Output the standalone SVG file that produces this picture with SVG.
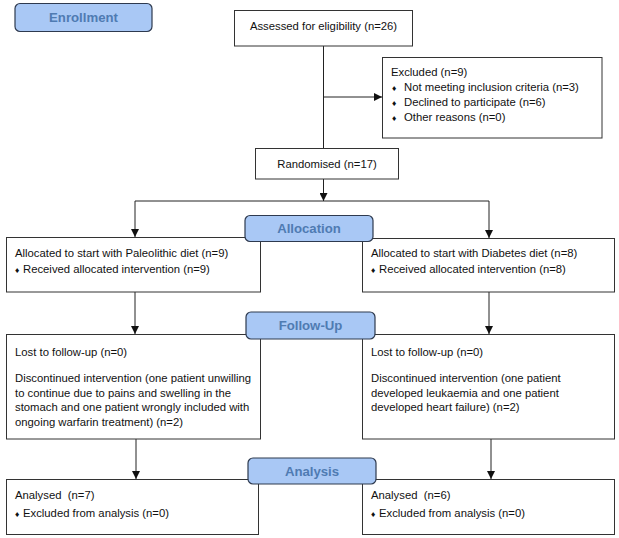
<svg xmlns="http://www.w3.org/2000/svg" width="619" height="538" viewBox="0 0 619 538">
<defs>
<style>
.box{fill:#fff;stroke:#333;stroke-width:1}
.hdr{fill:#a9c8f5;stroke:#2e3a4f;stroke-width:1.2}
.ht{font-family:"Liberation Sans",Arial,sans-serif;font-weight:bold;font-size:13.2px;fill:#4f7bb2;text-anchor:middle}
.t{font-family:"Liberation Sans",Arial,sans-serif;font-size:11.3px;fill:#111}
.b{font-size:8.5px}
.ln{stroke:#222;stroke-width:1;fill:none}
</style>
<marker id="ah" viewBox="0 0 10 10" refX="10" refY="5" markerWidth="8" markerHeight="8" markerUnits="userSpaceOnUse" orient="auto">
<path d="M0,0 L10,5 L0,10 z" fill="#111"/>
</marker>
</defs>
<rect width="619" height="538" fill="#fff"/>
<g id="connectors">
<line class="ln" x1="323.5" y1="46" x2="323.5" y2="148"/>
<line class="ln" x1="323.5" y1="97" x2="382" y2="97" marker-end="url(#ah)"/>
<line class="ln" x1="323.5" y1="179" x2="323.5" y2="201" marker-end="url(#ah)"/>
<line class="ln" x1="135" y1="201" x2="489" y2="201"/>
<line class="ln" x1="135" y1="201" x2="135" y2="237" marker-end="url(#ah)"/>
<line class="ln" x1="489" y1="201" x2="489" y2="238" marker-end="url(#ah)"/>
<line class="ln" x1="135" y1="292" x2="135" y2="334" marker-end="url(#ah)"/>
<line class="ln" x1="489" y1="292" x2="489" y2="334" marker-end="url(#ah)"/>
<line class="ln" x1="136" y1="439" x2="136" y2="479" marker-end="url(#ah)"/>
<line class="ln" x1="491" y1="439" x2="491" y2="479" marker-end="url(#ah)"/>
</g>
<g id="enrollment">
<rect class="hdr" x="15" y="3.5" width="137" height="28" rx="5"/>
<text class="ht" x="83.5" y="22.3">Enrollment</text>
</g>
<g id="assessed">
<rect class="box" x="234.5" y="10.5" width="178" height="35.5"/>
<text class="t" x="323.5" y="30" text-anchor="middle">Assessed for eligibility (n=26)</text>
</g>
<g id="excluded">
<rect class="box" x="382.5" y="57.5" width="219.5" height="80.5"/>
<text class="t" x="391" y="76">Excluded (n=9)</text>
<text class="t" x="392" y="91"><tspan class="b">♦</tspan><tspan x="404">Not meeting inclusion criteria (n=3)</tspan></text>
<text class="t" x="392" y="106"><tspan class="b">♦</tspan><tspan x="404">Declined to participate (n=6)</tspan></text>
<text class="t" x="392" y="121"><tspan class="b">♦</tspan><tspan x="404">Other reasons (n=0)</tspan></text>
</g>
<g id="randomised">
<rect class="box" x="255.5" y="148.5" width="143" height="30.5"/>
<text class="t" x="327" y="167.5" text-anchor="middle">Randomised (n=17)</text>
</g>
<g id="alloc-left">
<rect class="box" x="6.5" y="237.5" width="254" height="54.5"/>
<text class="t" x="15" y="257">Allocated to start with Paleolithic diet (n=9)</text>
<text class="t" x="15" y="273"><tspan class="b">♦</tspan><tspan x="23">Received allocated intervention (n=9)</tspan></text>
</g>
<g id="alloc-right">
<rect class="box" x="362.5" y="238.5" width="252" height="53.5"/>
<text class="t" x="371" y="257">Allocated to start with Diabetes diet (n=8)</text>
<text class="t" x="371" y="273"><tspan class="b">♦</tspan><tspan x="379">Received allocated intervention (n=8)</tspan></text>
</g>
<g id="allocation">
<rect class="hdr" x="245" y="215.5" width="128" height="26" rx="5"/>
<text class="ht" x="309" y="233.3">Allocation</text>
</g>
<g id="follow-left">
<rect class="box" x="6.5" y="334.5" width="254" height="104.5"/>
<text class="t" x="15" y="356">Lost to follow-up (n=0)</text>
<text class="t" x="15" y="382">Discontinued intervention (one patient unwilling</text>
<text class="t" x="15" y="396.5">to continue due to pains and swelling in the</text>
<text class="t" x="15" y="411">stomach and one patient wrongly included with</text>
<text class="t" x="15" y="425.5">ongoing warfarin treatment) (n=2)</text>
</g>
<g id="follow-right">
<rect class="box" x="362.5" y="334.5" width="252" height="104.5"/>
<text class="t" x="371" y="356">Lost to follow-up (n=0)</text>
<text class="t" x="371" y="382">Discontinued intervention (one patient</text>
<text class="t" x="371" y="396.5">developed leukaemia and one patient</text>
<text class="t" x="371" y="411">developed heart failure) (n=2)</text>
</g>
<g id="followup">
<rect class="hdr" x="246" y="312" width="129" height="27" rx="5"/>
<text class="ht" x="310.5" y="330.2">Follow-Up</text>
</g>
<g id="analysis-left">
<rect class="box" x="6.5" y="479.5" width="252" height="55"/>
<text class="t" x="15" y="499" xml:space="preserve">Analysed  (n=7)</text>
<text class="t" x="15" y="517"><tspan class="b">♦</tspan><tspan x="23">Excluded from analysis (n=0)</tspan></text>
</g>
<g id="analysis-right">
<rect class="box" x="362.5" y="479.5" width="252" height="55"/>
<text class="t" x="371" y="499" xml:space="preserve">Analysed  (n=6)</text>
<text class="t" x="371" y="517"><tspan class="b">♦</tspan><tspan x="379">Excluded from analysis (n=0)</tspan></text>
</g>
<g id="analysis">
<rect class="hdr" x="248" y="458" width="128" height="26" rx="5"/>
<text class="ht" x="312" y="475.7">Analysis</text>
</g>
</svg>
